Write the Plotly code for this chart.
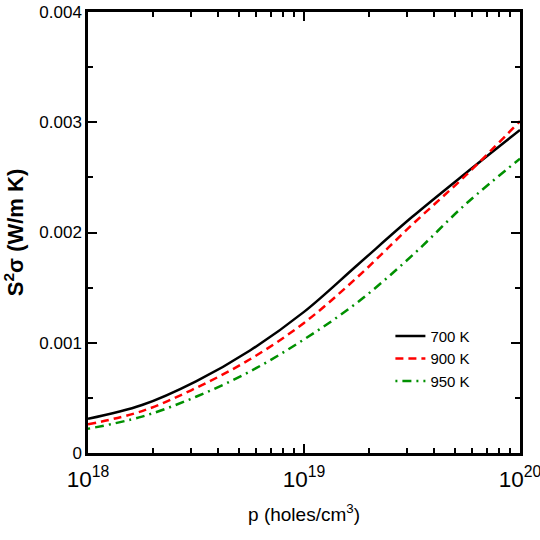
import plotly.graph_objects as go

log_p = [18.0, 18.25, 18.5, 18.75, 19.0, 19.25, 19.5, 19.75, 20.0]
p_values = [10.0 ** v for v in log_p]
s2sigma_700 = [0.00031, 0.000435, 0.00065, 0.00093, 0.00128, 0.00171, 0.00214, 0.00254, 0.00293]
s2sigma_900 = [0.00026, 0.00038, 0.00059, 0.00085, 0.00118, 0.00160, 0.00207, 0.00252, 0.00301]
s2sigma_950 = [0.00022, 0.00033, 0.00051, 0.00074, 0.00103, 0.00137, 0.00179, 0.00226, 0.00267]
series_names = ["700 K", "900 K", "950 K"]

FONT = "Arial"

fig = go.Figure()
styles = [("black", "solid"), ("red", "8px,5px"), ("#009000", "2px,5px,9px,5px")]
for name, ys, (col, dash) in zip(series_names, [s2sigma_700, s2sigma_900, s2sigma_950], styles):
    fig.add_trace(go.Scatter(x=p_values, y=ys, mode="lines", name=name,
                             line=dict(color=col, width=2.5, dash=dash, shape="spline", smoothing=1.0)))

fig.update_layout(
    width=540, height=540,
    margin=dict(l=88, r=20, t=12, b=87),
    plot_bgcolor="white", paper_bgcolor="white",
    font=dict(family=FONT, size=16, color="black"),
    showlegend=True,
    legend=dict(x=0.7, y=0.302, xanchor="left", yanchor="top",
                bgcolor="rgba(0,0,0,0)", font=dict(size=15, family=FONT),
                tracegroupgap=0),
)
fig.update_xaxes(
    type="log", range=[18, 20], automargin=False,
    tickmode="linear", tick0=0, dtick=1, exponentformat="power",
    ticks="inside", ticklen=9, tickwidth=2, tickcolor="black",
    minor=dict(dtick="D1", ticks="inside", ticklen=5,
               tickwidth=2, tickcolor="black", showgrid=False),
    showline=True, linewidth=2.5, linecolor="black", mirror="allticks",
    showgrid=False, zeroline=False, ticklabeloverflow="allow",
    tickfont=dict(size=18, family=FONT), ticklabelstandoff=5,
    title=dict(text="p (holes/cm<sup>3</sup>)", font=dict(size=19, family=FONT), standoff=17),
)
fig.update_yaxes(
    range=[0, 0.004], automargin=False,
    tickmode="linear", tick0=0, dtick=0.001,
    ticks="inside", ticklen=9, tickwidth=2, tickcolor="black",
    minor=dict(dtick=0.0005, ticks="inside", ticklen=5,
               tickwidth=2, tickcolor="black", showgrid=False),
    showline=True, linewidth=2.5, linecolor="black", mirror="allticks",
    showgrid=False, zeroline=False, ticklabeloverflow="allow",
    tickfont=dict(size=17, family=FONT),
    title=dict(text="<b>S<sup>2</sup>σ (W/m K)</b>", font=dict(size=22, family=FONT), standoff=20),
)

# remove the default 8px page margin so the 540x540 figure fills the window exactly
fig.write_html("out.html", config={"displayModeBar": False},
               post_script="document.body.style.margin='0';")
